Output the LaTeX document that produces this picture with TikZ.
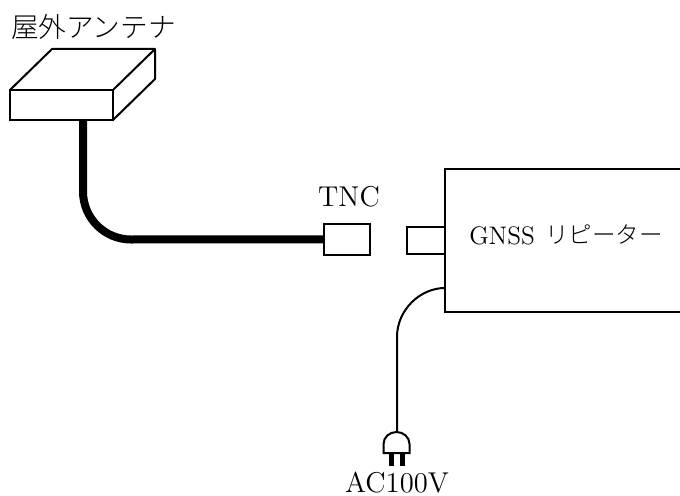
\documentclass[tikz,border=0pt]{standalone}
\usepackage{fontspec}
\newfontfamily\cjk{Noto Sans CJK JP Light}
\newfontfamily\lmr{lmroman12-regular.otf}
\usetikzlibrary{positioning}

\begin{document}
\begin{tikzpicture}[
    x=0.75pt, y=-0.75pt,
    box/.style={rectangle, draw=black, line width=1.5pt, fill=white, inner sep=0pt, outer sep=0pt},
    cable/.style={line width=6pt, draw=black},
    cord/.style={line width=1.5pt, draw=black},
    label/.style={font=\fontsize{21.5}{24}\selectfont\lmr, inner sep=0pt},
    pin/.style={line width=3.4pt, draw=black}
]
\useasboundingbox (0,0) rectangle (680,495);

% Antenna
\coordinate (frontnw) at (10,90);
\coordinate (frontne) at (113,90);
\coordinate (frontse) at (113,120);
\coordinate (frontsw) at (10,120);
\coordinate (backw) at (52,49);
\coordinate (backe) at (155,49);
\coordinate (backs) at (155,79);
\draw[line width=1.5pt, line join=round] (frontnw) -- (backw) -- (backe) -- (frontne)
    (backe) -- (backs) -- (frontse);
\draw[line width=1.5pt] (frontnw) rectangle (frontse);
\node[inner sep=0pt, font=\fontsize{20.7}{24}\selectfont\cjk, anchor=west] (antennalabel) at (11,27) {屋外アンテナ};

% Cable and connectors
\coordinate (cabletop) at (83,121);
\node[box, minimum width=34.5pt, minimum height=23pt, anchor=north west] (tnc) at (324,224) {};
\node[label, anchor=base] (tnclabel) at (349,206) {TNC};
\draw[cable] (cabletop) -- (83,191.5) arc[start angle=180, end angle=270, x radius=48, y radius=-48] -- (tnc.west);

% Repeater
\coordinate (repnw) at (445,169);
\coordinate (repne) at (680,169);
\coordinate (repse) at (680,312);
\coordinate (repsw) at (445,312);
\draw[line width=1.5pt] (repne) -- (repnw) -- (repsw) -- (repse);
\node[box, minimum width=28.5pt, minimum height=20pt, anchor=north east] (jack) at (445,227) {};
\node[inner sep=0pt, anchor=base west, font=\fontsize{19}{22}\selectfont\lmr] (replabel) at (469,244) {GNSS};
\node[inner sep=0pt, anchor=base west, font=\fontsize{17.6}{22}\selectfont\cjk] (replabeljp) at (545,243) {リピーター};

% Power cord
\coordinate (cordstart) at (445,288);
\coordinate (plugtop) at (397,432);
\draw[cord] (cordstart) .. controls (420,288) and (397,310) .. (397,337) -- (plugtop);
\draw[line width=1.5pt, fill=white] (383.5,453) -- (383.5,444) arc[start angle=180, end angle=0, x radius=13, y radius=-12] -- (409.5,453) -- cycle;
\draw[pin] (391.5,454) -- (391.5,466);
\draw[pin] (402.5,454) -- (402.5,466);
\node[label, anchor=base] (aclabel) at (397,492) {AC100V};
\end{tikzpicture}
\end{document}
